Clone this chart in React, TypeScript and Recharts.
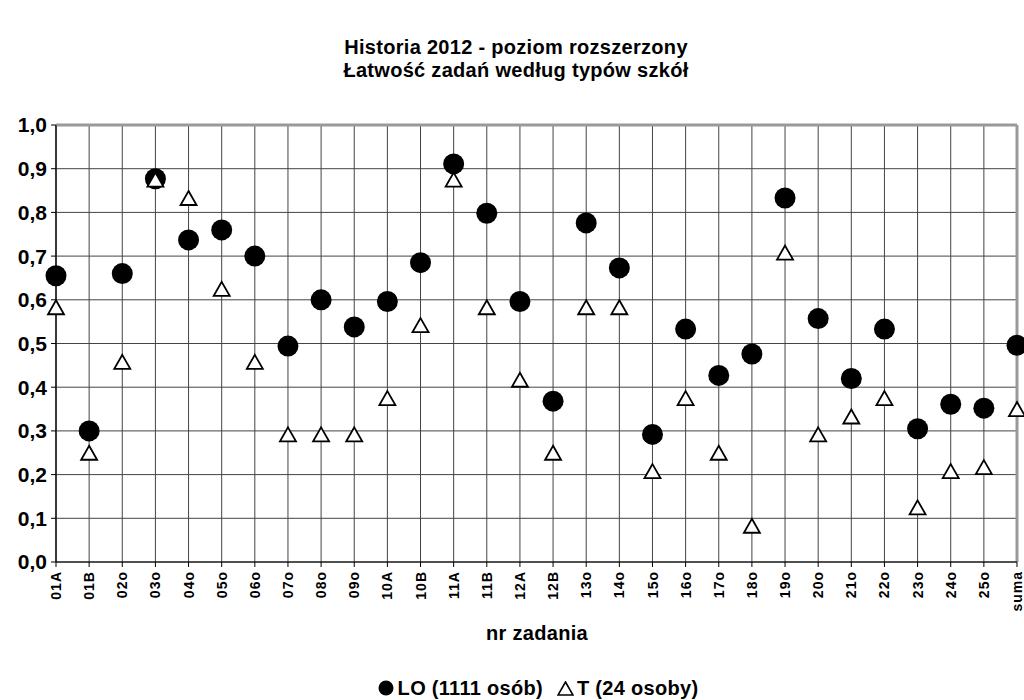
import React from "react";
import {
  ComposedChart,
  Line,
  XAxis,
  YAxis,
  CartesianGrid,
  ReferenceLine,
} from "recharts";

const categories = [
  "01A", "01B", "02o", "03o", "04o", "05o", "06o", "07o", "08o", "09o",
  "10A", "10B", "11A", "11B", "12A", "12B", "13o", "14o", "15o", "16o",
  "17o", "18o", "19o", "20o", "21o", "22o", "23o", "24o", "25o", "suma",
];

const loValues = [
  0.655, 0.3, 0.66, 0.877, 0.737, 0.76, 0.7, 0.494, 0.6, 0.538,
  0.596, 0.685, 0.911, 0.798, 0.596, 0.368, 0.776, 0.673, 0.292, 0.533,
  0.427, 0.476, 0.833, 0.557, 0.42, 0.533, 0.305, 0.361, 0.352, 0.496,
];

const tValues = [
  0.583, 0.25, 0.458, 0.875, 0.833, 0.625, 0.458, 0.292, 0.292, 0.292,
  0.375, 0.542, 0.875, 0.583, 0.417, 0.25, 0.583, 0.583, 0.208, 0.375,
  0.25, 0.083, 0.708, 0.292, 0.333, 0.375, 0.125, 0.208, 0.217, 0.35,
];

const yTicks = [0, 0.1, 0.2, 0.3, 0.4, 0.5, 0.6, 0.7, 0.8, 0.9, 1.0];

const data = categories.map((cat, i) => ({
  cat,
  lo: loValues[i],
  t: tValues[i],
}));

const FONT = "'Liberation Sans', Arial, sans-serif";

function CircleDot(props: any) {
  const { cx, cy, index } = props;
  if (cx == null || cy == null) return null;
  return <circle key={`c${index}`} cx={cx} cy={cy} r={10.5} fill="#000" />;
}

function TriangleDot(props: any) {
  const { cx, cy, index } = props;
  if (cx == null || cy == null) return null;
  const w = 8;
  const h = 7;
  const pts = `${cx},${cy - h} ${cx + w},${cy + h} ${cx - w},${cy + h}`;
  return (
    <polygon
      key={`t${index}`}
      points={pts}
      fill="#fff"
      stroke="#000"
      strokeWidth={1.8}
      strokeLinejoin="miter"
    />
  );
}

function XTick(props: any) {
  const { x, y, payload } = props;
  return (
    <text
      x={x}
      y={y + 2}
      transform={`rotate(-90 ${x} ${y + 2})`}
      textAnchor="end"
      dy="0.36em"
      fontSize={14}
      fontWeight="bold"
      fontFamily={FONT}
      letterSpacing={1}
      fill="#000"
    >
      {payload.value}
    </text>
  );
}

export default function App() {
  return (
    <div
      style={{
        position: "absolute",
        left: 0,
        top: 0,
        width: 1024,
        height: 700,
        background: "#fff",
        fontFamily: FONT,
      }}
    >
      <div
        style={{
          position: "absolute",
          top: 36,
          left: 4,
          width: 1024,
          textAlign: "center",
          fontWeight: "bold",
          fontSize: 20,
          lineHeight: "23px",
          letterSpacing: 0.3,
        }}
      >
        Historia 2012 - poziom rozszerzony
        <br />
        Łatwość zadań według typów szkół
      </div>
      <ComposedChart
        width={1024}
        height={700}
        data={data}
        margin={{ top: 125, right: 7, left: 0, bottom: 98 }}
      >
        <CartesianGrid stroke="#444" strokeWidth={1} />
        <XAxis
          dataKey="cat"
          scale="point"
          padding={{ left: 0, right: 0 }}
          interval={0}
          height={40}
          tick={<XTick />}
          tickSize={5}
          axisLine={{ stroke: "#000" }}
          tickLine={{ stroke: "#000" }}
        />
        <YAxis
          domain={[0, 1]}
          ticks={yTicks}
          width={56}
          interval={0}
          tickFormatter={(v: number) => v.toFixed(1).replace(".", ",")}
          tick={{ fontSize: 21, fontWeight: "bold", fill: "#000", fontFamily: FONT }}
          tickSize={5}
          tickMargin={4}
          axisLine={{ stroke: "#000" }}
          tickLine={{ stroke: "#000" }}
        />
        <ReferenceLine y={1} stroke="#999" strokeWidth={3} />
        <ReferenceLine x="suma" stroke="#999" strokeWidth={3} />
        <Line
          dataKey="lo"
          stroke="none"
          dot={<CircleDot />}
          activeDot={false}
          isAnimationActive={false}
        />
        <Line
          dataKey="t"
          stroke="none"
          dot={<TriangleDot />}
          activeDot={false}
          isAnimationActive={false}
        />
      </ComposedChart>
      <div
        style={{
          position: "absolute",
          top: 622,
          left: 25,
          width: 1024,
          textAlign: "center",
          fontWeight: "bold",
          fontSize: 20,
          letterSpacing: 0.3,
        }}
      >
        nr zadania
      </div>
      <div
        style={{
          position: "absolute",
          top: 676,
          left: 26,
          width: 1024,
          display: "flex",
          justifyContent: "center",
          alignItems: "center",
          fontWeight: "bold",
          fontSize: 20,
          lineHeight: "24px",
          letterSpacing: 0.3,
          whiteSpace: "pre",
        }}
      >
        <svg width={16} height={16} style={{ marginRight: 4 }}>
          <circle cx={8} cy={8} r={7.5} fill="#000" />
        </svg>
        <span>LO (1111 osób)</span>
        <svg width={17} height={15} style={{ marginLeft: 14, marginRight: 3 }}>
          <polygon points="8.5,1 16,14 1,14" fill="none" stroke="#000" strokeWidth={1.6} />
        </svg>
        <span>T (24 osoby)</span>
      </div>
    </div>
  );
}
